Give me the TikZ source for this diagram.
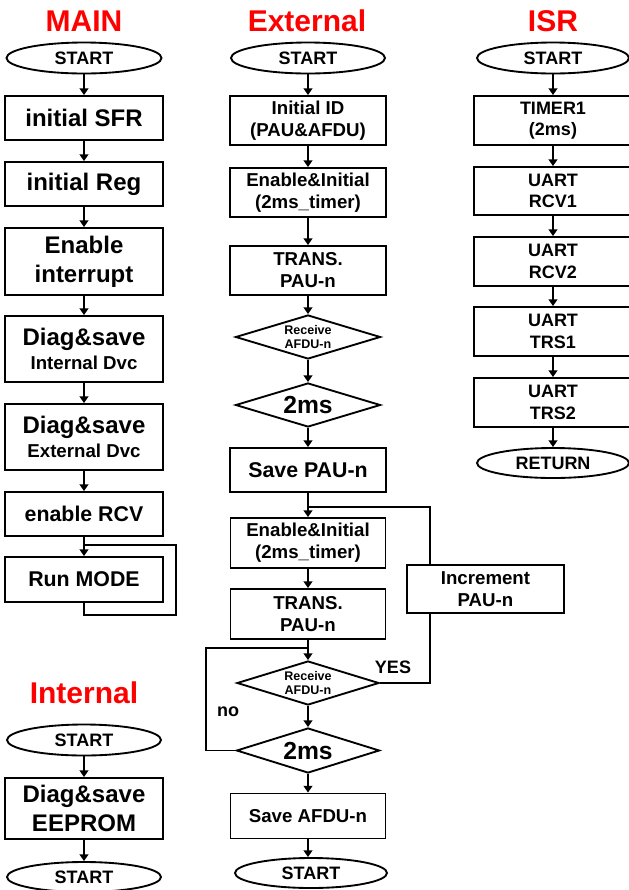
\documentclass[tikz,border=0pt]{standalone}
\usepackage{fontspec}
\setmainfont{Liberation Sans}
\usetikzlibrary{arrows.meta,shapes.geometric}
\definecolor{titlered}{RGB}{255,0,0}
\tikzset{
  base/.style={draw, line width=1.4pt, inner sep=0pt, align=center},
  box/.style={base, rectangle},
  term/.style={base, ellipse},
  dec/.style={base, diamond, shape aspect=3.3},
  wh/.style 2 args={minimum width=#1*0.75pt, minimum height=#2*0.75pt},
  fbig/.style={font=\fontsize{18}{22}\selectfont\bfseries},
  fmid/.style={font=\fontsize{16}{19}\selectfont\bfseries},
  fsm/.style={font=\fontsize{14}{16.5}\selectfont\bfseries},
  fst/.style={font=\fontsize{13.5}{16}\selectfont\bfseries},
  ftiny/.style={font=\fontsize{9.4}{11}\selectfont\bfseries},
  ftitle/.style={font=\fontsize{22.5}{26}\selectfont\bfseries, text=titlered},
  arr/.style={line width=1.4pt, -{Triangle[length=5pt,width=6.5pt]}},
  conn/.style={line width=1.4pt},
}
\begin{document}
\begin{tikzpicture}[x=0.75pt,y=-0.75pt]
\useasboundingbox (0,0) rectangle (629,890);
\clip (0,0) rectangle (629,890);

% ---------------- MAIN ----------------
\node[ftitle] (tmain) at (84,21) {MAIN};
\node[term, wh={155}{31}, fst] (mstart) at (84,58) {START};
\node[box, wh={158}{44}, fbig] (sfr) at (84,118) {initial SFR};
\node[box, wh={158}{44}, fbig] (reg) at (84,184) {initial Reg};
\node[box, wh={158}{67}, fbig] (intr) at (84,261.5) {Enable\\interrupt};
\node[box, wh={158}{66}, font=\fontsize{18}{18}\selectfont\bfseries] (dint) at (84,349) {Diag\&save\\{\fontsize{14}{14}\selectfont Internal Dvc}};
\node[box, wh={158}{66}, font=\fontsize{18}{18}\selectfont\bfseries] (dext) at (84,437) {Diag\&save\\{\fontsize{14}{14}\selectfont External Dvc}};
\node[box, wh={158}{44}, fmid] (rcv) at (84,514) {enable RCV};
\node[box, wh={158}{45}, fmid] (run) at (84,579.5) {Run MODE};

\draw[arr] (mstart) -- (sfr);
\draw[arr] (sfr) -- (reg);
\draw[arr] (reg) -- (intr);
\draw[arr] (intr) -- (dint);
\draw[arr] (dint) -- (dext);
\draw[arr] (dext) -- (rcv);
\draw[arr] (rcv) -- (run);
\coordinate (mloopR) at (176,615);
\coordinate (mj) at (84,545);
\draw[conn] (run.south) |- (mloopR) |- (mj);

% ---------------- Internal ----------------
\node[ftitle] (tint) at (84,693) {Internal};
\node[term, wh={154}{31}, fst] (istart) at (84,740) {START};
\node[box, wh={158}{61}, fbig] (eep) at (84,808.5) {Diag\&save\\EEPROM};
\node[term, wh={154}{30}, fst] (iend) at (84,877) {START};
\draw[arr] (istart) -- (eep);
\draw[arr] (eep) -- (iend);

% ---------------- External ----------------
\node[ftitle] (text) at (307,21) {External};
\node[term, wh={154}{31}, fst] (estart) at (308,58) {START};
\node[box, wh={156}{49}, fsm] (eid) at (308,120.5) {Initial ID\\(PAU\&AFDU)};
\node[box, wh={156}{49}, fsm] (een1) at (308,192.5) {Enable\&Initial\\(2ms\_timer)};
\node[box, wh={156}{49}, fsm] (etr1) at (308,270.5) {TRANS.\\PAU-n};
\node[dec, wh={145}{44}, ftiny] (erc1) at (308,337) {Receive\\AFDU-n};
\node[dec, wh={145}{44}, font=\fontsize{18.5}{20}\selectfont\bfseries] (e2m1) at (308,405) {2ms};
\node[box, wh={156}{44}, fmid] (esp) at (308,470) {Save PAU-n};
\node[box, wh={155}{50}, fsm] (een2) at (308,543) {Enable\&Initial\\(2ms\_timer)};
\node[box, wh={155}{50}, fsm] (etr2) at (308,614) {TRANS.\\PAU-n};
\node[dec, wh={142}{44}, ftiny] (erc2) at (308,683) {Receive\\AFDU-n};
\node[dec, wh={143}{45}, font=\fontsize{18.5}{20}\selectfont\bfseries] (e2m2) at (308,750.5) {2ms};
\node[box, wh={155}{45}, fsm] (esa) at (308,816) {Save AFDU-n};
\node[term, wh={152}{30}, fst] (eend) at (311,873) {START};
\node[box, wh={157}{48}, fsm] (inc) at (485.5,589) {Increment\\PAU-n};
\node[fst] (yes) at (393,667) {YES};
\node[fst] (no) at (228,712) {no};

\draw[arr] (estart) -- (eid);
\draw[arr] (eid) -- (een1);
\draw[arr] (een1) -- (etr1);
\draw[arr] (etr1) -- (erc1);
\draw[arr] (erc1) -- (e2m1);
\draw[arr] (e2m1) -- (esp);
\draw[arr] (esp) -- (een2);
\draw[arr] (een2) -- (etr2);
\draw[arr] (etr2) -- (erc2);
\draw[arr] (erc2) -- (e2m2);
\draw[arr] (e2m2) -- (esa);
\draw[arr] (esa.south) -- (esa.south |- eend.north);

\coordinate (yesC) at (430,683);
\coordinate (ej) at (308,507);
\draw[conn] (erc2.east) -- (yesC) -- (yesC |- inc.south);
\draw[conn] (yesC |- inc.north) -- (yesC |- ej) -- (ej);
\coordinate (noC) at (206,750.5);
\coordinate (nj) at (308,648);
\draw[conn] (e2m2.west) -- (noC) |- (nj);

% ---------------- ISR ----------------
\node[ftitle] (tisr) at (553,21) {ISR};
\node[term, wh={152}{31}, fst] (sstart) at (553,58) {START};
\node[box, wh={158}{49}, fst] (t1) at (553,120.5) {TIMER1\\(2ms)};
\node[box, wh={158}{48}, fst] (r1) at (553,191) {UART\\RCV1};
\node[box, wh={158}{49}, fst] (r2) at (553,261.5) {UART\\RCV2};
\node[box, wh={158}{49}, fst] (s1) at (553,331.5) {UART\\TRS1};
\node[box, wh={158}{49}, fst] (s2) at (553,402.5) {UART\\TRS2};
\node[term, wh={152}{30}, fst] (ret) at (553,463) {RETURN};
\draw[arr] (sstart) -- (t1);
\draw[arr] (t1) -- (r1);
\draw[arr] (r1) -- (r2);
\draw[arr] (r2) -- (s1);
\draw[arr] (s1) -- (s2);
\draw[arr] (s2) -- (ret);
\end{tikzpicture}
\end{document}
